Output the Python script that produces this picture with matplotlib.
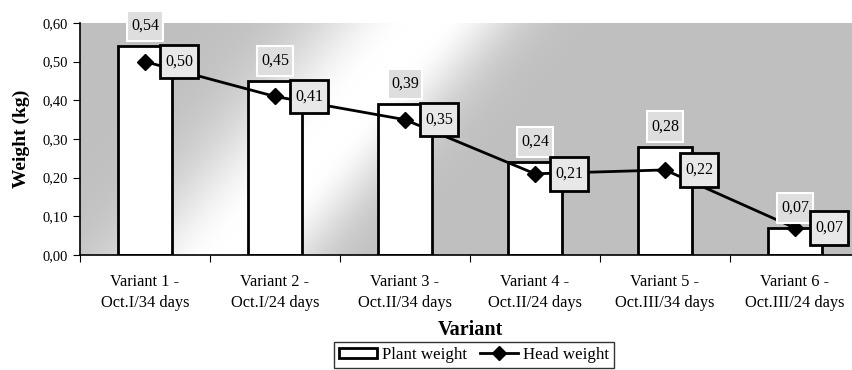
import numpy as np
import matplotlib
matplotlib.use("Agg")
import matplotlib.pyplot as plt
from matplotlib.lines import Line2D
from matplotlib.patches import Patch
from matplotlib.path import Path

plt.rcParams['font.family'] = ['Liberation Serif', 'DejaVu Serif']

categories = ["Variant 1 -\nOct.I/34 days", "Variant 2 -\nOct.I/24 days",
              "Variant 3 -\nOct.II/34 days", "Variant 4 -\nOct.II/24 days",
              "Variant 5 -\nOct.III/34 days", "Variant 6 -\nOct.III/24 days"]
plant_weight = [0.54, 0.45, 0.39, 0.24, 0.28, 0.07]
head_weight = [0.50, 0.41, 0.35, 0.21, 0.22, 0.07]
yticks = [0.0, 0.1, 0.2, 0.3, 0.4, 0.5, 0.6]


def rect_box(padx, pady):
    def f(x0, y0, width, height, mutation_size):
        px = padx * mutation_size
        py = pady * mutation_size
        verts = [(x0 - px, y0 - py), (x0 + width + px, y0 - py),
                 (x0 + width + px, y0 + height + py), (x0 - px, y0 + height + py),
                 (x0 - px, y0 - py)]
        return Path(verts, [Path.MOVETO, Path.LINETO, Path.LINETO, Path.LINETO, Path.CLOSEPOLY])
    return f


W, H = 853, 370
fig = plt.figure(figsize=(W / 100, H / 100), dpi=100)
ax_l, ax_b, ax_w, ax_h = 80, 115, 780, 232
ax = fig.add_axes([ax_l / W, ax_b / H, ax_w / W, ax_h / H])

# background gradient (gray with diagonal light band)
xs = np.arange(ax_w) + ax_l
ys = 23 + np.arange(ax_h)
X, Y = np.meshgrid(xs, ys)
xc = 235 + (250 - Y) * 185 / 220
h = X - xc
sig = np.where(h < 0, 100, 70)
hh = np.maximum(np.abs(h) - 15, 0)
val = 0.75 + 0.25 * np.exp(-(hh / sig) ** 2)
img = np.dstack([val, val, val])
ax.imshow(img, extent=[-0.5, 5.5, 0.0, 0.6], origin='upper', aspect='auto', zorder=0)

x = np.arange(len(categories))
ax.bar(x, plant_weight, width=0.41, color='white', edgecolor='black', linewidth=2, zorder=2)
ax.plot(x, head_weight, color='black', linewidth=2, marker='D', markersize=8, zorder=3)

for xi, v in zip(x, plant_weight):
    ax.annotate(f"{v:.2f}".replace('.', ','), (xi, v), xytext=(0, 14.5), textcoords='offset points',
                ha='center', va='center', fontsize=11.5, zorder=4, annotation_clip=False,
                bbox=dict(boxstyle=rect_box(0.22, 0.45), facecolor='#dedede', edgecolor='white', linewidth=1.5))
for xi, v in zip(x, head_weight):
    ax.annotate(f"{v:.2f}".replace('.', ','), (xi, v), xytext=(24.5, 0), textcoords='offset points',
                ha='center', va='center', fontsize=11.5, zorder=5, annotation_clip=False,
                bbox=dict(boxstyle=rect_box(0.30, 0.55), facecolor='#e8e8e8', edgecolor='black', linewidth=2))

ax.set_xlim(-0.5, 5.5)
ax.set_ylim(0, 0.6)
ax.set_yticks(yticks)
ax.set_yticklabels([f"{t:.2f}".replace('.', ',') for t in yticks], fontsize=10.5)
ax.set_xticks(np.arange(-0.5, 6, 1.0))
ax.set_xticklabels([])
ax.set_xticks(x, minor=True)
ax.set_xticklabels(categories, minor=True, fontsize=11.8, linespacing=1.35)
ax.tick_params(axis='x', which='minor', length=0, pad=14)
ax.tick_params(axis='x', which='major', length=5, direction='out')
ax.tick_params(axis='y', length=5, direction='out')
for s in ['top', 'right']:
    ax.spines[s].set_visible(False)
for s in ['left', 'bottom']:
    ax.spines[s].set_linewidth(1.2)
ax.set_ylabel("Weight (kg)", fontsize=14, fontweight='bold', labelpad=9)
ax.set_xlabel("Variant", fontsize=14.5, fontweight='bold', labelpad=7)

handles = [Patch(facecolor='white', edgecolor='black', linewidth=2, label='Plant weight'),
           Line2D([0], [0], color='black', linewidth=2, marker='D', markersize=7, label='Head weight')]
leg = fig.legend(handles=handles, loc='upper center', bbox_to_anchor=(474 / W, 1 - 342 / H), ncol=2,
                 fontsize=12.2, frameon=True, fancybox=False, edgecolor='black',
                 handlelength=2.2, handleheight=0.6, columnspacing=0.8, handletextpad=0.3,
                 borderpad=0.3, borderaxespad=0)
leg.get_frame().set_linewidth(1)

fig.savefig("out.png", dpi=100)
